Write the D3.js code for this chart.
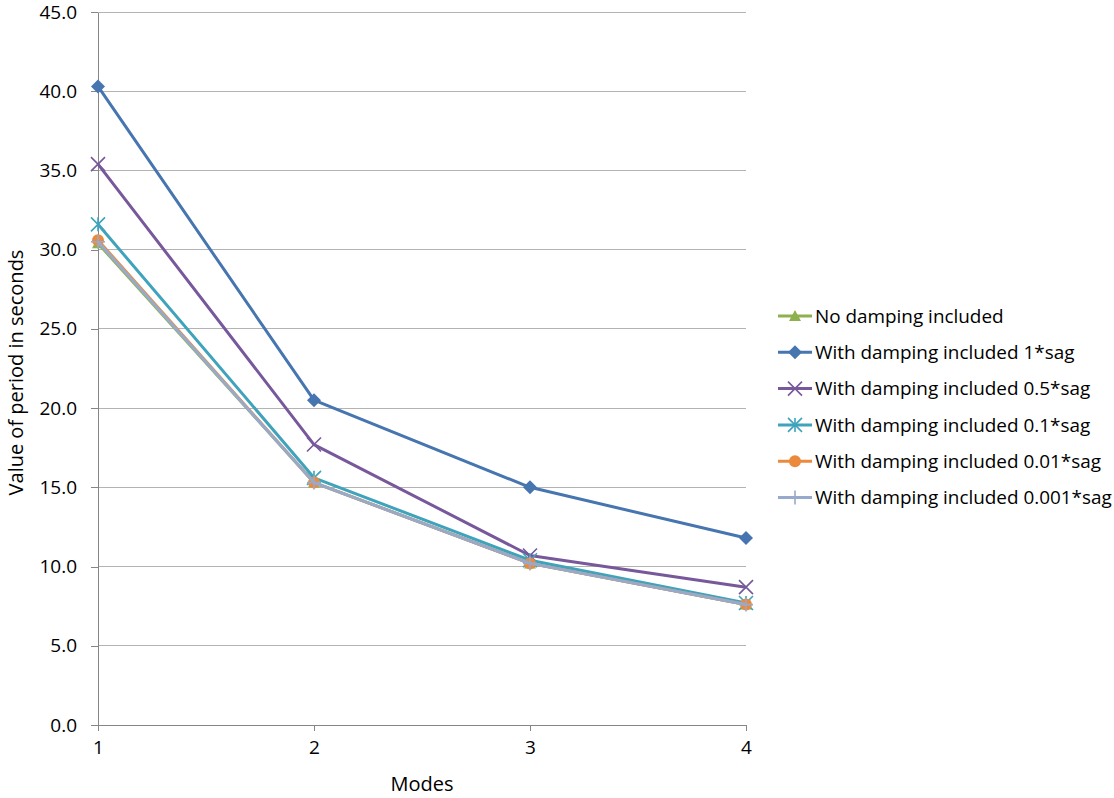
<!DOCTYPE html>
<html>
<head>
<meta charset="utf-8">
<script src="https://cdn.jsdelivr.net/npm/d3@7/dist/d3.min.js"></script>
<style>
  html, body { margin: 0; padding: 0; background: #fff; }
  svg { display: block; font-family: "Open Sans", "Noto Sans", sans-serif; }
</style>
</head>
<body>
<svg id="chart" width="1114" height="798"></svg>
<script>
// Modes on the x axis and the period values (seconds) for each case
const modes = [1, 2, 3, 4];
const yTicks = [0, 5, 10, 15, 20, 25, 30, 35, 40, 45];

const noDamping   = [30.4, 15.3, 10.2, 7.6];
const damping1    = [40.3, 20.5, 15.0, 11.8];
const damping05   = [35.4, 17.7, 10.7, 8.7];
const damping01   = [31.6, 15.6, 10.4, 7.7];
const damping001  = [30.6, 15.3, 10.2, 7.6];
const damping0001 = [30.5, 15.3, 10.2, 7.6];

const seriesNames = [
  "No damping included",
  "With damping included 1*sag",
  "With damping included 0.5*sag",
  "With damping included 0.1*sag",
  "With damping included 0.01*sag",
  "With damping included 0.001*sag"
];
const seriesValues = [noDamping, damping1, damping05, damping01, damping001, damping0001];
const seriesColors = ["#8FB04E", "#4675B0", "#77589B", "#3FA3BC", "#EB8A3D", "#98AACB"];
const seriesMarkers = ["triangle", "diamond", "x", "star", "circle", "plus"];

const svg = d3.select("#chart");
const plotLeft = 98, plotRight = 746, plotTop = 12, plotBottom = 725;

const x = d3.scalePoint().domain(modes).range([plotLeft, plotRight]);
const y = d3.scaleLinear().domain([0, 45]).range([plotBottom, plotTop]);

// horizontal gridlines
svg.append("g")
  .selectAll("line")
  .data(yTicks.filter(d => d > 0))
  .join("line")
  .attr("x1", plotLeft).attr("x2", plotRight)
  .attr("y1", d => y(d)).attr("y2", d => y(d))
  .attr("stroke", "#b3b3b3").attr("stroke-width", 1)
  .attr("shape-rendering", "crispEdges");

// y axis
const yAxis = svg.append("g")
  .attr("transform", `translate(${plotLeft},0)`)
  .call(d3.axisLeft(y).tickValues(yTicks).tickFormat(d3.format(".1f")).tickSize(7).tickPadding(14).tickSizeOuter(0));
yAxis.select(".domain").attr("stroke", "#868686").attr("shape-rendering", "crispEdges");
yAxis.selectAll(".tick line").attr("stroke", "#868686").attr("shape-rendering", "crispEdges");
yAxis.selectAll(".tick text").attr("font-size", 19).attr("fill", "#000")
  .attr("font-family", "'Open Sans', sans-serif");

// x axis
const xAxis = svg.append("g")
  .attr("transform", `translate(0,${plotBottom})`)
  .call(d3.axisBottom(x).tickSize(6).tickPadding(10).tickSizeOuter(0));
xAxis.select(".domain").attr("stroke", "#868686").attr("shape-rendering", "crispEdges");
xAxis.selectAll(".tick line").attr("stroke", "#868686").attr("shape-rendering", "crispEdges");
xAxis.selectAll(".tick text").attr("font-size", 19).attr("fill", "#000")
  .attr("font-family", "'Open Sans', sans-serif");

// axis titles
svg.append("text")
  .attr("x", 422).attr("y", 791)
  .attr("text-anchor", "middle")
  .attr("font-size", 20).attr("fill", "#000")
  .text("Modes");
svg.append("text")
  .attr("transform", `translate(23,${(plotTop + plotBottom) / 2 + 4}) rotate(-90)`)
  .attr("text-anchor", "middle")
  .attr("font-size", 20).attr("fill", "#000")
  .text("Value of period in seconds");

// marker drawing
function drawMarker(g, type, cx, cy, color) {
  if (type === "triangle") {
    g.append("path")
      .attr("d", `M${cx},${cy - 6} L${cx + 6},${cy + 5} L${cx - 6},${cy + 5} Z`)
      .attr("fill", color);
  } else if (type === "diamond") {
    g.append("path")
      .attr("d", `M${cx},${cy - 7} L${cx + 7},${cy} L${cx},${cy + 7} L${cx - 7},${cy} Z`)
      .attr("fill", color);
  } else if (type === "circle") {
    g.append("circle").attr("cx", cx).attr("cy", cy).attr("r", 6).attr("fill", color);
  } else if (type === "x") {
    const s = 7;
    g.append("path")
      .attr("d", `M${cx - s},${cy - s} L${cx + s},${cy + s} M${cx - s},${cy + s} L${cx + s},${cy - s}`)
      .attr("stroke", color).attr("stroke-width", 1.6).attr("fill", "none");
  } else if (type === "star") {
    const s = 7;
    g.append("path")
      .attr("d", `M${cx - s},${cy - s} L${cx + s},${cy + s} M${cx - s},${cy + s} L${cx + s},${cy - s} M${cx},${cy - s} L${cx},${cy + s}`)
      .attr("stroke", color).attr("stroke-width", 1.6).attr("fill", "none");
  } else if (type === "plus") {
    const s = 7;
    g.append("path")
      .attr("d", `M${cx - s},${cy} L${cx + s},${cy} M${cx},${cy - s} L${cx},${cy + s}`)
      .attr("stroke", color).attr("stroke-width", 1.6).attr("fill", "none");
  }
}

const line = d3.line().x((d, i) => x(modes[i])).y(d => y(d));

seriesValues.forEach((vals, si) => {
  const g = svg.append("g");
  g.append("path")
    .attr("d", line(vals))
    .attr("fill", "none")
    .attr("stroke", seriesColors[si])
    .attr("stroke-width", 3)
    .attr("stroke-linejoin", "round");
  vals.forEach((v, i) => drawMarker(g, seriesMarkers[si], x(modes[i]), y(v), seriesColors[si]));
});

// legend
const legend = svg.append("g");
const legendX = 778, legendY0 = 316, legendStep = 36.3;
seriesNames.forEach((name, i) => {
  const ly = legendY0 + i * legendStep;
  legend.append("line")
    .attr("x1", legendX).attr("x2", legendX + 34)
    .attr("y1", ly).attr("y2", ly)
    .attr("stroke", seriesColors[i]).attr("stroke-width", 3);
  drawMarker(legend, seriesMarkers[i], legendX + 17, ly, seriesColors[i]);
  legend.append("text")
    .attr("x", legendX + 37).attr("y", ly)
    .attr("dy", "0.35em")
    .attr("font-size", 18.9).attr("fill", "#000")
    .text(name);
});
</script>
</body>
</html>
